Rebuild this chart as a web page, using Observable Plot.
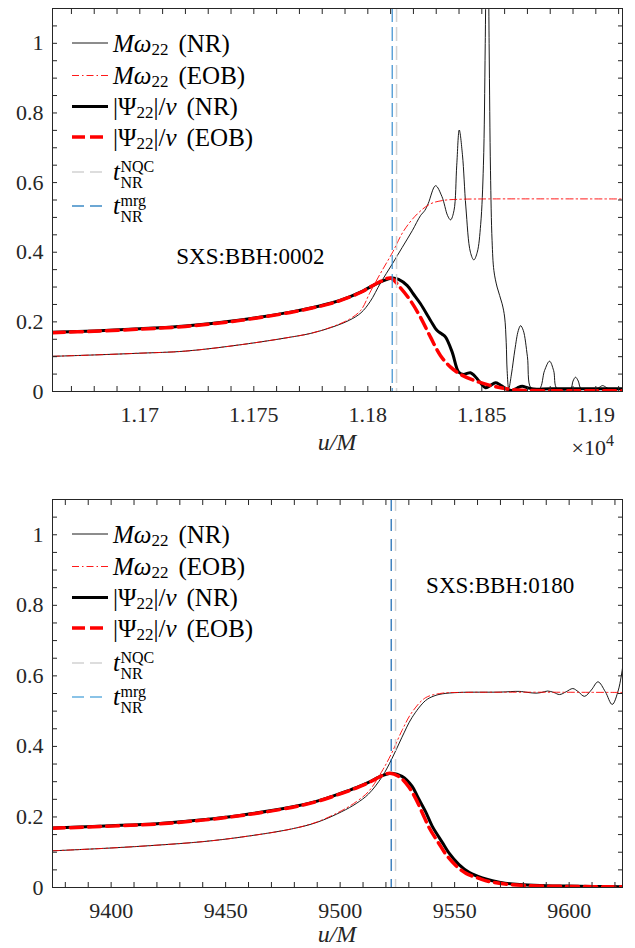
<!DOCTYPE html>
<html><head><meta charset="utf-8">
<script src="https://cdn.jsdelivr.net/npm/d3@7"></script>
<script src="https://cdn.jsdelivr.net/npm/@observablehq/plot@0.6"></script>
<style>
body{margin:0;background:#fff;}
#chart{position:relative;width:635px;height:948px;overflow:hidden;}
#chart svg{display:block;}
</style></head><body><div id="chart"></div>
<script>
// ---------------- DATA ----------------
// Panel 1: SXS:BBH:0002
const topLabel = "SXS:BBH:0002";
const topLabelPos = [11748.5, 0.388];
const topXDomain = [11661.7, 11911.7];
const topXTicks = d3.range(11670, 11911, 10);
const topXTickLabels = [11700, 11750, 11800, 11850, 11900];
const topTNQC = 11812.6;
const topTMrg = 11810.7;

const topFreqNRU = [11661.7, 11680, 11700, 11720, 11745, 11766, 11775, 11784, 11792, 11797, 11801, 11805.6, 11810.7, 11815.1, 11819.5, 11823.1, 11825, 11826.5, 11829.7, 11832.5, 11835, 11836.3, 11837.8, 11839, 11840.1, 11841.5, 11843, 11845, 11846.5, 11848, 11849.5, 11850.7, 11851.5, 11852.4, 11853.2, 11853.8, 11854.5, 11855.3, 11856.7, 11858.9, 11860, 11860.7, 11861.1, 11861.8, 11863, 11864.5, 11866, 11867, 11868.2, 11870, 11871.6, 11875.3, 11877.5, 11879.7, 11881.5, 11883, 11888.9, 11890, 11891.1, 11892.3, 11893.6, 11900.6, 11902, 11903, 11904.5, 11905.7, 11911.7];
const topFreqNR = [0.101, 0.105, 0.110, 0.116, 0.135, 0.156, 0.167, 0.184, 0.205, 0.226, 0.258, 0.312, 0.366, 0.414, 0.462, 0.505, 0.520, 0.540, 0.591, 0.560, 0.505, 0.493, 0.520, 0.650, 0.751, 0.680, 0.530, 0.400, 0.378, 0.400, 0.480, 0.650, 1.000, 1.600, 1.000, 0.634, 0.433, 0.347, 0.300, 0.252, 0.214, 0.140, 0.060, 0.008, 0.050, 0.120, 0.175, 0.189, 0.175, 0.100, 0.010, 0.008, 0.060, 0.087, 0.060, 0.008, 0.008, 0.030, 0.041, 0.030, 0.008, 0.008, 0.014, 0.017, 0.012, 0.008, 0.008];

const topFreqEOBU = [11661.7, 11680, 11700, 11720, 11745, 11766, 11775, 11784, 11792, 11797, 11801, 11805.6, 11810.7, 11815.8, 11821.7, 11827.5, 11833.3, 11840, 11850, 11911.7];
const topFreqEOB = [0.101, 0.105, 0.110, 0.116, 0.135, 0.156, 0.167, 0.185, 0.208, 0.234, 0.285, 0.340, 0.398, 0.462, 0.510, 0.539, 0.549, 0.552, 0.553, 0.553];

const topAmpNRU = [11661.7, 11680, 11700, 11720, 11745, 11766, 11775, 11784, 11792, 11797, 11801, 11805.6, 11808.5, 11810.7, 11813.5, 11817.3, 11820, 11823.1, 11827.5, 11830.4, 11832.5, 11834.1, 11837, 11839.9, 11842.1, 11843.5, 11845, 11846.5, 11848, 11850, 11851.6, 11853.5, 11856, 11857.8, 11859.6, 11861.5, 11863.3, 11865.5, 11867.7, 11870, 11872.8, 11880, 11911.7];
const topAmpNR = [0.170, 0.174, 0.180, 0.188, 0.206, 0.228, 0.240, 0.254, 0.272, 0.286, 0.300, 0.315, 0.322, 0.326, 0.322, 0.304, 0.280, 0.252, 0.204, 0.175, 0.165, 0.156, 0.113, 0.055, 0.049, 0.052, 0.054, 0.047, 0.036, 0.020, 0.011, 0.016, 0.025, 0.020, 0.012, 0.005, 0.003, 0.010, 0.015, 0.011, 0.007, 0.008, 0.008];

const topAmpEOBU = [11661.7, 11680, 11700, 11720, 11745, 11766, 11775, 11784, 11792, 11797, 11801, 11805.6, 11810, 11814, 11818.7, 11823.1, 11827.5, 11831.9, 11836.3, 11840.7, 11846.5, 11854, 11862.6, 11870, 11911.7];
const topAmpEOB = [0.169, 0.173, 0.179, 0.187, 0.205, 0.227, 0.239, 0.253, 0.271, 0.285, 0.300, 0.316, 0.326, 0.300, 0.261, 0.213, 0.156, 0.103, 0.070, 0.049, 0.032, 0.017, 0.006, 0.003, 0.002];

// Panel 2: SXS:BBH:0180
const botLabel = "SXS:BBH:0180";
const botLabelPos = [9569.9, 0.856];
const botXDomain = [9374.4, 9623.3];
const botXTicks = d3.range(9380, 9621, 10);
const botXTickLabels = [9400, 9450, 9500, 9550, 9600];
const botTNQC = 9524.2;
const botTMrg = 9522.3;

const botFreqNRU = [9374.4, 9400, 9420, 9440, 9456.9, 9478.8, 9490, 9500.7, 9507, 9512.4, 9518.3, 9522.6, 9527, 9531.4, 9537.3, 9541, 9544.6, 9552, 9570, 9578.2, 9582, 9585.5, 9588, 9590.6, 9593.3, 9595.8, 9598.7, 9601.6, 9604, 9606.7, 9609.7, 9612.6, 9615.8, 9618.8, 9621.5, 9623.3];
const botFreqNR = [0.104, 0.112, 0.120, 0.130, 0.143, 0.166, 0.185, 0.215, 0.238, 0.265, 0.314, 0.365, 0.426, 0.482, 0.530, 0.543, 0.549, 0.553, 0.554, 0.556, 0.553, 0.551, 0.553, 0.557, 0.553, 0.547, 0.555, 0.564, 0.555, 0.542, 0.560, 0.583, 0.555, 0.519, 0.560, 0.622];

const botFreqEOBU = [9374.4, 9400, 9420, 9440, 9456.9, 9478.8, 9490, 9500.7, 9507, 9512.4, 9518.3, 9522.6, 9527, 9531.4, 9537.3, 9544.6, 9552, 9623.3];
const botFreqEOB = [0.104, 0.112, 0.120, 0.130, 0.143, 0.166, 0.186, 0.218, 0.243, 0.272, 0.330, 0.382, 0.445, 0.497, 0.538, 0.551, 0.553, 0.553];

const botAmpNRU = [9374.4, 9400, 9420, 9440, 9456.9, 9478.8, 9490, 9500.7, 9507, 9512.4, 9518.3, 9522.6, 9527, 9531.4, 9534, 9537.3, 9540.2, 9544.6, 9547.5, 9551.9, 9556.3, 9562.1, 9566.5, 9572, 9579.7, 9590, 9598.7, 9610, 9623.3];
const botAmpNR = [0.169, 0.175, 0.181, 0.192, 0.205, 0.228, 0.245, 0.268, 0.283, 0.298, 0.317, 0.324, 0.315, 0.287, 0.255, 0.215, 0.174, 0.128, 0.098, 0.065, 0.043, 0.027, 0.019, 0.012, 0.008, 0.005, 0.004, 0.003, 0.002];

const botAmpEOBU = [9374.4, 9400, 9420, 9440, 9456.9, 9478.8, 9490, 9500.7, 9507, 9512.4, 9518.3, 9521.8, 9526, 9530, 9533, 9536, 9539, 9543.4, 9546.3, 9550.7, 9555, 9561, 9565, 9572, 9580, 9590, 9600, 9623.3];
const botAmpEOB = [0.168, 0.174, 0.180, 0.191, 0.204, 0.227, 0.244, 0.267, 0.282, 0.297, 0.317, 0.324, 0.313, 0.285, 0.252, 0.210, 0.168, 0.122, 0.093, 0.061, 0.040, 0.025, 0.017, 0.010, 0.006, 0.004, 0.003, 0.002];

const yTicksAll = d3.range(0, 22).map(i => +(i * 0.05).toFixed(2));
const yTickLabels = [0, 0.2, 0.4, 0.6, 0.8, 1];

// ---------------- FONT PICK ----------------
function pickFont(list) {
  const ctx = document.createElement("canvas").getContext("2d");
  const s = "SXS:BBH:0002 M(NR) 1.175 Il";
  const w = f => { ctx.font = "40px " + f; return ctx.measureText(s).width; };
  for (const f of list) {
    for (const base of ["monospace", "sans-serif", "serif"]) {
      if (Math.abs(w(`"${f}", ${base}`) - w(base)) > 0.5) return f;
    }
  }
  return "serif";
}
const FONT = pickFont(["Liberation Serif", "Times New Roman", "Tinos", "DejaVu Serif", "Noto Serif"]);

// ---------------- DRAWING ----------------
const AX = "#262626";
const rowsOf = (us, vs) => us.map((u, i) => ({u, v: vs[i]}));
const yFmt = d => d === 0 ? "0" : d === 1 ? "1" : d.toFixed(1);

function makePanel(cfg) {
  const freqNR = rowsOf(cfg.freqNRU, cfg.freqNR);
  const freqEOB = rowsOf(cfg.freqEOBU, cfg.freqEOB);
  const ampNR = rowsOf(cfg.ampNRU, cfg.ampNR);
  const ampEOB = rowsOf(cfg.ampEOBU, cfg.ampEOB);
  const svg = Plot.plot({
    width: 635, height: cfg.height,
    marginLeft: 52, marginRight: 13, marginTop: cfg.marginTop, marginBottom: cfg.marginBottom,
    style: {fontFamily: FONT, fontSize: "22px", color: AX, background: "transparent", overflow: "visible"},
    x: {domain: cfg.xDomain},
    y: {domain: [0, 1.1]},
    marks: [
      Plot.line(freqNR, {x: "u", y: "v", stroke: "#000", strokeWidth: 0.9, curve: "catmull-rom", clip: true}),
      Plot.line(freqEOB, {x: "u", y: "v", stroke: "#ff0000", strokeWidth: 0.9, strokeDasharray: "7,3,1.5,3", curve: "catmull-rom", clip: true}),
      Plot.line(ampNR, {x: "u", y: "v", stroke: "#000", strokeWidth: 3, curve: "catmull-rom", clip: true}),
      Plot.line(ampEOB, {x: "u", y: "v", stroke: "#ff0000", strokeWidth: 3.5, strokeDasharray: "12,6", curve: "catmull-rom", clip: true}),
      Plot.ruleX([cfg.tNQC], {stroke: "#d2d2d2", strokeWidth: 1.5, strokeDasharray: cfg.vDash}),
      Plot.ruleX([cfg.tMrg], {stroke: cfg.mrgColor, strokeWidth: 1.2, strokeDasharray: cfg.vDash}),
      Plot.text([cfg.label], {x: [cfg.labelPos[0]], y: [cfg.labelPos[1]], text: d => d, fontSize: 23, fontFamily: FONT, fill: "#000"}),
      Plot.axisX(cfg.xTicks, {anchor: "bottom", tickSize: -5, tickFormat: () => "", label: null, stroke: AX}),
      Plot.axisX(cfg.xTicks, {anchor: "top", tickSize: -5, tickFormat: () => "", label: null, stroke: AX}),
      Plot.axisX(cfg.xTickLabels, {anchor: "bottom", tickSize: 0, tickPadding: 15, tickFormat: cfg.xFmt, label: null, fontSize: 22, fontFamily: FONT, fill: AX}),
      Plot.axisY(yTicksAll, {anchor: "left", tickSize: -5, tickFormat: () => "", label: null, stroke: AX}),
      Plot.axisY(yTicksAll, {anchor: "right", tickSize: -5, tickFormat: () => "", label: null, stroke: AX}),
      Plot.axisY(yTickLabels, {anchor: "left", tickSize: 0, tickPadding: 9, tickFormat: yFmt, label: null, fontSize: 22, fontFamily: FONT, fill: AX}),
      Plot.frame({stroke: AX, strokeWidth: 1})
    ]
  });
  document.getElementById("chart").appendChild(svg);
  const g = d3.select(svg).append("g").attr("font-family", FONT).attr("fill", "#000").attr("text-anchor", "start");
  const ft = cfg.marginTop;
  const fb = cfg.height - cfg.marginBottom;
  // axis label u/M
  g.append("text").attr("x", (52 + 622) / 2).attr("y", fb + cfg.xLabelOffset).attr("text-anchor", "middle")
    .attr("font-size", 24).attr("font-style", "italic").attr("fill", AX).text("u/M");
  if (cfg.exponent) {
    const t = g.append("text").attr("x", 571.5).attr("y", fb + 64).attr("font-size", 22).attr("fill", AX);
    t.append("tspan").text("\u00d710");
    t.append("tspan").attr("font-size", 16).attr("dy", -9).text(cfg.exponent);
  }
  // legend
  const rowY = [35, 67.5, 98.5, 129, 164, 198].map(d => d + ft);
  const styles = [
    {stroke: "#000", w: 0.9, dash: null},
    {stroke: "#ff0000", w: 0.9, dash: "7,3,1.5,3"},
    {stroke: "#000", w: 3, dash: null},
    {stroke: "#ff0000", w: 3.5, dash: "13,5"},
    {stroke: "#d2d2d2", w: 1.5, dash: "12,6"},
    {stroke: cfg.mrgLegendColor, w: 1.5, dash: "12,6"}
  ];
  styles.forEach((s, i) => {
    g.append("line").attr("x1", 72).attr("x2", 108).attr("y1", rowY[i]).attr("y2", rowY[i])
      .attr("stroke", s.stroke).attr("stroke-width", s.w).attr("stroke-dasharray", s.dash);
  });
  const TX = 113, FS = 25, SS = 17;
  function mathRow(y, parts) {
    const t = g.append("text").attr("x", TX).attr("y", y + 8.5).attr("font-size", FS);
    let shift = 0;
    parts.forEach(p => {
      const sp = t.append("tspan").text(p.t);
      if (p.it) sp.attr("font-style", "italic");
      if (p.sub) { sp.attr("font-size", SS).attr("dy", 3 - shift); shift = 3; }
      else if (shift) { sp.attr("dy", -shift); shift = 0; }
      if (p.dx) sp.attr("dx", p.dx);
    });
  }
  const omega = (src) => [{t: "M\u03c9", it: true}, {t: "22", sub: true}, {t: "(" + src + ")", dx: 10}];
  const psi = (src) => [{t: "|\u03a8"}, {t: "22", sub: true}, {t: "|/"}, {t: "\u03bd", it: true}, {t: "(" + src + ")", dx: 10}];
  mathRow(rowY[0], omega("NR"));
  mathRow(rowY[1], omega("EOB"));
  mathRow(rowY[2], psi("NR"));
  mathRow(rowY[3], psi("EOB"));
  [["NQC", rowY[4]], ["mrg", rowY[5]]].forEach(([sup, y]) => {
    const tt = g.append("text").attr("x", TX).attr("y", y + 8.3).attr("font-size", FS).attr("font-style", "italic").text("t");
    const tw = tt.node().getComputedTextLength();
    g.append("text").attr("x", TX + tw + 0.5).attr("y", y - 0.5).attr("font-size", 16).text(sup);
    g.append("text").attr("x", TX + tw + 0.5).attr("y", y + 16).attr("font-size", 16).text("NR");
  });
}

makePanel({
  height: 491, marginTop: 8, marginBottom: 100, xLabelOffset: 59,
  xDomain: topXDomain, xTicks: topXTicks, xTickLabels: topXTickLabels,
  xFmt: d => String(+(d / 1e4).toFixed(4)), exponent: "4",
  label: topLabel, labelPos: topLabelPos,
  tNQC: topTNQC, tMrg: topTMrg, mrgColor: "#3b8fd0", mrgLegendColor: "#3d8bc6", vDash: "14,5",
  freqNRU: topFreqNRU, freqNR: topFreqNR, freqEOBU: topFreqEOBU, freqEOB: topFreqEOB,
  ampNRU: topAmpNRU, ampNR: topAmpNR, ampEOBU: topAmpEOBU, ampEOB: topAmpEOB
});
makePanel({
  height: 457, marginTop: 8, marginBottom: 61, xLabelOffset: 55,
  xDomain: botXDomain, xTicks: botXTicks, xTickLabels: botXTickLabels,
  xFmt: d => String(d), exponent: null,
  label: botLabel, labelPos: botLabelPos,
  tNQC: botTNQC, tMrg: botTMrg, mrgColor: "#1565b0", mrgLegendColor: "#64b0e0", vDash: "12,8",
  freqNRU: botFreqNRU, freqNR: botFreqNR, freqEOBU: botFreqEOBU, freqEOB: botFreqEOB,
  ampNRU: botAmpNRU, ampNR: botAmpNR, ampEOBU: botAmpEOBU, ampEOB: botAmpEOB
});
</script></body></html>
